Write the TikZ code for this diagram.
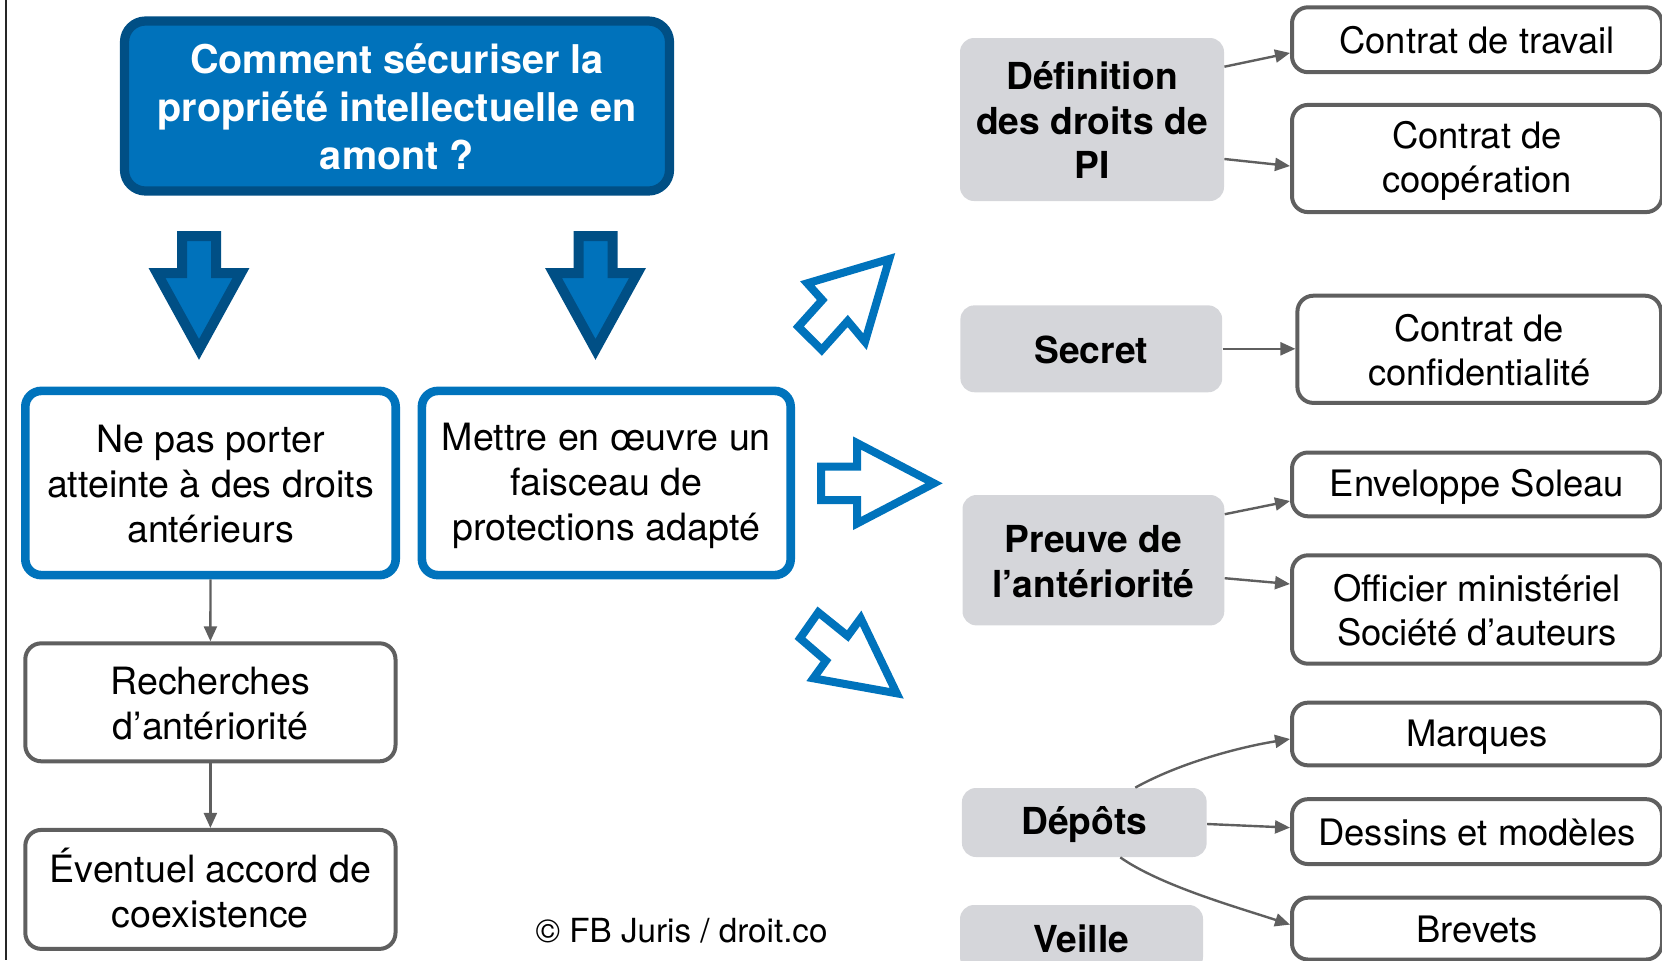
\documentclass[tikz,border=0pt]{standalone}
\usepackage{fontspec}
\setmainfont{TeX Gyre Heros}
\usetikzlibrary{arrows.meta}
\definecolor{tblue}{HTML}{0072BB}
\definecolor{tdark}{HTML}{004F85}
\definecolor{bblue}{HTML}{0073BC}
\definecolor{gline}{HTML}{5F5F5F}
\definecolor{gfill}{HTML}{D5D6DA}
\newcommand{\sH}{\rule[-0.1em]{0pt}{0.98em}}
\begin{document}
\begin{tikzpicture}[x=0.5pt,y=-0.5pt,
  titlebox/.style={draw=tdark, fill=tblue, line width=4.6pt, rounded corners=10.5pt, text=white, align=center, font=\bfseries\fontsize{19.8}{24.1}\selectfont, inner sep=0pt},
  bluebox/.style={draw=bblue, fill=white, line width=4.3pt, rounded corners=8pt, align=center, font=\fontsize{18.8}{22.5}\selectfont, inner sep=0pt},
  leftbox/.style={draw=gline, fill=white, line width=2pt, rounded corners=8pt, align=center, font=\fontsize{18.8}{22.6}\selectfont, inner sep=0pt},
  rightbox/.style={draw=gline, fill=white, line width=2pt, rounded corners=8pt, align=center, font=\fontsize{18.2}{21.8}\selectfont, inner sep=0pt, minimum width=185pt},
  catbox/.style={fill=gfill, rounded corners=7pt, align=center, font=\bfseries\fontsize{18.6}{22.3}\selectfont, inner sep=0pt},
  conn/.style={draw=gline, line width=1.2pt, -{Triangle[length=7.5pt,width=6.5pt]}},
  solidarrow/.style={draw=tdark, fill=tblue, line width=5pt},
  hollowarrow/.style={draw=bblue, line width=4pt},
]
\useasboundingbox (0,0) rectangle (1662,960);
\begin{scope}
\clip (0,0) rectangle (1662,960);

% left frame line
\draw[line width=1pt, black!85] (6,0) -- (6,960);

% title
\node[titlebox, minimum width=272.5pt, minimum height=85pt] (title) at (397,106)
  {\sH Comment sécuriser la\\propriété intellectuelle en\\amont ?\sH};

% solid down arrows
\draw[solidarrow] (182,236) -- (216,236) -- (216,273) -- (241,273) -- (199,349.4) -- (157,273) -- (182,273) -- cycle;
\draw[solidarrow] (578.5,236) -- (612.5,236) -- (612.5,273) -- (637.5,273) -- (595.5,349.4) -- (553.5,273) -- (578.5,273) -- cycle;

% blue boxes
\node[bluebox, minimum width=185.2pt, minimum height=92.1pt] (ne) at (210.5,483)
  {\sH Ne pas porter\\atteinte à des droits\\antérieurs\sH};
\node[bluebox, minimum width=184.4pt, minimum height=92.1pt] (mettre) at (606.3,483)
  {\sH Mettre en œuvre un\\faisceau de\\protections adapté\sH};

% left chain
\node[leftbox, minimum width=185.1pt, minimum height=59pt] (rech) at (210.4,702.3)
  {\sH Recherches\\d’antériorité\sH};
\node[leftbox, minimum width=185.1pt, minimum height=59.5pt] (event) at (210.4,889.4)
  {\sH Éventuel accord de\\coexistence\sH};
\draw[conn] (ne.south) -- (rech.north);
\draw[conn] (rech.south) -- (event.north);

% copyright
\node[font=\fontsize{16.6}{20}\selectfont, inner sep=0pt] (copy) at (681.6,930.7) {© FB Juris / droit.co};

% hollow arrows
\draw[hollowarrow] (889.3,259) -- (807.3,283.3) -- (822.3,300) -- (798.3,326.7) -- (821.7,350) -- (847.7,321) -- (865,341.7) -- cycle;
\draw[hollowarrow] (821,466.5) -- (857,466.5) -- (857,443) -- (934,483.3) -- (857,523.5) -- (857,500) -- (821,500) -- cycle;
\draw[hollowarrow] (818.3,612.3) -- (847.7,636) -- (860.7,618.3) -- (896.7,693.3) -- (813.3,678.3) -- (826,660.7) -- (800,638.3) -- cycle;

% category boxes
\node[catbox, minimum width=132pt, minimum height=81.5pt] (def) at (1092,119.5) {\sH Définition\\des droits de\\PI\sH};
\node[catbox, minimum width=130.9pt, minimum height=43.45pt] (secret) at (1091.3,348.8) {\sH Secret};
\node[catbox, minimum width=130.9pt, minimum height=65.2pt] (preuve) at (1093.4,560.2) {\sH Preuve de\\l’antériorité\sH};
\node[catbox, minimum width=122.35pt, minimum height=34.5pt] (depots) at (1084.3,822.5) {\sH Dépôts};
\node[catbox, minimum width=121.5pt, minimum height=33pt] (veille) at (1081.5,938) {\sH Veille};

% right boxes
\node[rightbox, minimum height=32.45pt] (travail) at (1477,39.75) {\sH Contrat de travail};
\node[rightbox, minimum height=53.6pt] (coop) at (1477,158.5) {\sH Contrat de\\coopération\sH};
\node[rightbox, minimum width=181.8pt, minimum height=53.6pt] (conf) at (1479.2,349.3) {\sH Contrat de\\confidentialité\sH};
\node[rightbox, minimum height=31.9pt] (soleau) at (1477,484.4) {\sH Enveloppe Soleau};
\node[rightbox, minimum height=54.2pt] (offic) at (1477,609.5) {\sH Officier ministériel\\Société d’auteurs\sH};
\node[rightbox, minimum height=31.35pt] (marques) at (1477,734) {\sH Marques};
\node[rightbox, minimum height=32.45pt] (dessins) at (1477,831.6) {\sH Dessins et modèles};
\node[rightbox, minimum height=30.9pt] (brevets) at (1477,928.6) {\sH Brevets};

% connectors
\draw[conn] ([yshift=26.4pt]def.east) -- ([yshift=-6.6pt]travail.west);
\draw[conn] ([yshift=-19.75pt]def.east) -- ([yshift=-3.75pt]coop.west);
\draw[conn] (secret.east) -- (secret.east -| conf.west);
\draw[conn] ([yshift=23pt]preuve.east) -- ([yshift=-8.3pt]soleau.west);
\draw[conn] ([yshift=-9pt]preuve.east) -- ([yshift=12.75pt]offic.west);
\draw[conn] ([xshift=25.5pt]depots.north) .. controls +(45,-25) and +(-50,8) .. ([yshift=-2.5pt]marques.west);
\draw[conn] ([yshift=-0.75pt]depots.east) -- ([yshift=2pt]dessins.west);
\draw[conn] ([xshift=18pt]depots.south) .. controls +(40,28) and +(-55,-18) .. ([yshift=2pt]brevets.west);
\end{scope}
\end{tikzpicture}
\end{document}
